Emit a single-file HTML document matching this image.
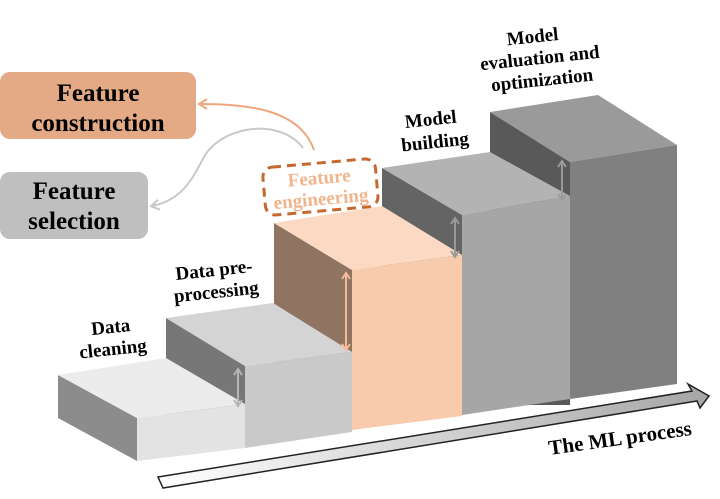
<!DOCTYPE html>
<html><head><meta charset="utf-8"><style>
html,body{margin:0;padding:0;background:#fff;width:720px;height:499px;overflow:hidden}
text{font-family:"Liberation Serif","Times New Roman",serif;font-weight:bold}
</style></head><body>
<svg width="720" height="499" viewBox="0 0 720 499" xmlns="http://www.w3.org/2000/svg">
<defs>
<linearGradient id="ag" x1="0" y1="0" x2="1" y2="0">
<stop offset="0" stop-color="#ffffff"/><stop offset="1" stop-color="#a6a6a6"/>
</linearGradient>
<marker id="ho" markerWidth="12" markerHeight="12" refX="9" refY="6" orient="auto" markerUnits="userSpaceOnUse"><path d="M2,1 L10,6 L2,11" fill="none" stroke="#f0a67c" stroke-width="2"/></marker>
<marker id="hg" markerWidth="12" markerHeight="12" refX="9" refY="6" orient="auto" markerUnits="userSpaceOnUse"><path d="M2,1 L10,6 L2,11" fill="none" stroke="#c8c8c8" stroke-width="2"/></marker>
</defs>

<!-- Step 5 -->
<polygon points="490,112 570,162 570,405 490,405" fill="#595959"/>
<polygon points="490,112 598,95 677,145 570,162" fill="#9a9a9a"/>
<polygon points="570,162 677,145 677,384 570,399" fill="#808080"/>
<!-- Step 4 -->
<polygon points="382,168 462,215 462,415 382,415" fill="#646464"/>
<polygon points="382,168 490,152 570,196 462,215" fill="#b3b3b3"/>
<polygon points="462,215 570,196 570,399 462,415" fill="#a6a6a6"/>
<!-- Step 3 -->
<polygon points="274,223 352,270 352,432 274,432" fill="#8f7462"/>
<polygon points="274,223 382,206 462,255 352,270" fill="#fbd9c2"/>
<polygon points="352,270 462,255 462,416 352,430" fill="#f8cbad"/>
<!-- Step 2 -->
<polygon points="166,318 245,366 245,448 166,448" fill="#777777"/>
<polygon points="166,318 273,303 352,352 245,366" fill="#d4d4d4"/>
<polygon points="245,366 352,352 352,432 245,448" fill="#c9c9c9"/>
<!-- Step 1 -->
<polygon points="58,375 137,418 137,461 58,418" fill="#8c8c8c"/>
<polygon points="58,375 166,358 245,404 137,418" fill="#ececec"/>
<polygon points="137,418 245,404 245,448 137,461" fill="#e3e3e3"/>

<!-- double arrows -->
<g stroke-width="2" fill="none">
<g stroke="#b5b5b5"><line x1="238" y1="370" x2="238" y2="405"/><path d="M234,375 L238,369 L242,375 M234,400 L238,406 L242,400"/></g>
<g stroke="#f4bc98"><line x1="346" y1="274" x2="346" y2="349"/><path d="M342,279 L346,273 L350,279 M342,344 L346,350 L350,344"/></g>
<g stroke="#9a9a9a"><line x1="455" y1="219" x2="455" y2="256"/><path d="M451,224 L455,218 L459,224 M451,251 L455,257 L459,251"/></g>
<g stroke="#9a9a9a"><line x1="562" y1="162" x2="562" y2="199"/><path d="M558,167 L562,161 L566,167 M558,194 L562,200 L566,194"/></g>
</g>

<!-- Big process arrow -->
<polygon points="158,477 692,391 688,384 709,396 700,408 697,401 163,488" fill="url(#ag)" stroke="#222" stroke-width="1.5" stroke-linejoin="miter"/>
<text x="620" y="445" font-size="21" text-anchor="middle" transform="rotate(-8 620 438)">The ML process</text>

<!-- Left boxes -->
<rect x="0" y="72" width="196" height="67" rx="10" fill="#e4a985"/>
<text x="98" y="101" font-size="25" text-anchor="middle">Feature</text>
<text x="98" y="131" font-size="25" text-anchor="middle">construction</text>
<rect x="0" y="172" width="148" height="67" rx="10" fill="#bfbfbf"/>
<text x="74" y="199" font-size="25" text-anchor="middle">Feature</text>
<text x="74" y="229" font-size="25" text-anchor="middle">selection</text>

<!-- curved connectors -->
<path d="M314,150 C300,110 250,104 200,104" fill="none" stroke="#f0a67c" stroke-width="2" marker-end="url(#ho)"/>
<path d="M303,148 C280,118 225,125 205,155 C192,180 182,200 152,206" fill="none" stroke="#c8c8c8" stroke-width="2" marker-end="url(#hg)"/>

<!-- Feature engineering dashed box -->
<g transform="rotate(-5 320 188)">
<rect x="264" y="163" width="113" height="48" rx="10" fill="#fff" stroke="#c5692e" stroke-width="3" stroke-dasharray="9,6"/>
<text x="320" y="184" font-size="19" text-anchor="middle" fill="#f2b48c">Feature</text>
<text x="320" y="205" font-size="19" text-anchor="middle" fill="#f2b48c">engineering</text>
</g>

<!-- step labels -->
<g transform="rotate(-6 112 340)">
<text x="112" y="333" font-size="19" text-anchor="middle">Data</text>
<text x="112" y="355" font-size="19" text-anchor="middle">cleaning</text>
</g>
<g transform="rotate(-6 215 280)">
<text x="215" y="276" font-size="19" text-anchor="middle">Data pre-</text>
<text x="215" y="298" font-size="19" text-anchor="middle">processing</text>
</g>
<g transform="rotate(-6 434 132)">
<text x="432" y="125" font-size="19" text-anchor="middle">Model</text>
<text x="434" y="148" font-size="19" text-anchor="middle">building</text>
</g>
<g transform="rotate(-6 540 60)">
<text x="535" y="42" font-size="19" text-anchor="middle">Model</text>
<text x="540" y="64" font-size="19" text-anchor="middle">evaluation and</text>
<text x="540" y="86" font-size="19" text-anchor="middle">optimization</text>
</g>
</svg>
</body></html>
